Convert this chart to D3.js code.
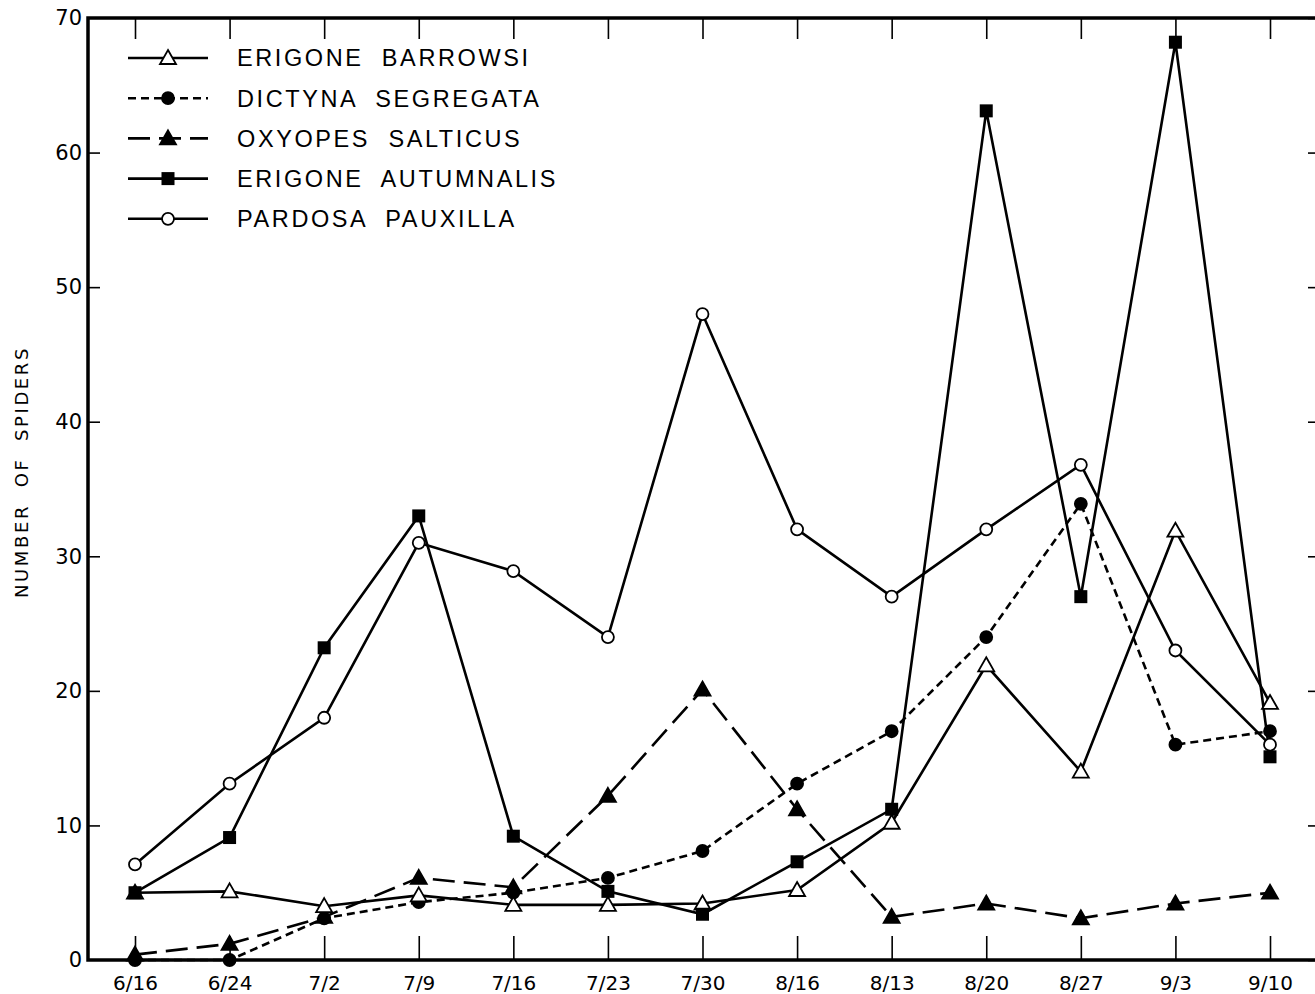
<!DOCTYPE html>
<html><head><meta charset="utf-8">
<script src="https://cdn.jsdelivr.net/npm/d3@7"></script>
<style>body{margin:0;background:#fff}svg{display:block}</style>
</head><body>
<script>
const dates = ["6/16","6/24","7/2","7/9","7/16","7/23","7/30","8/16","8/13","8/20","8/27","9/3","9/10"];
const yTicks = [0,10,20,30,40,50,60,70];
const erigoneBarrowsi   = [5,5.1,4,4.8,4.1,4.1,4.2,5.2,10.2,21.9,14,31.9,19.1];
const dictynaSegregata  = [0,0,3.1,4.3,5,6.1,8.1,13.1,17,24,33.9,16,17];
const oxyopesSalticus   = [0.4,1.2,3.2,6.1,5.4,12.2,20.1,11.2,3.2,4.2,3.1,4.2,5];
const erigoneAutumnalis = [5,9.1,23.2,33,9.2,5.1,3.4,7.3,11.2,63.1,27,68.2,15.1];
const pardosaPauxilla   = [7.1,13.1,18,31,28.9,24,48,32,27,32,36.8,23,16];
const seriesNames = ["ERIGONE  BARROWSI","DICTYNA  SEGREGATA","OXYOPES  SALTICUS","ERIGONE  AUTUMNALIS","PARDOSA  PAUXILLA"];

const series = [
  {name:seriesNames[0], values:erigoneBarrowsi, dash:null, marker:"triOpen"},
  {name:seriesNames[1], values:dictynaSegregata, dash:"8,5", marker:"circFill"},
  {name:seriesNames[2], values:oxyopesSalticus, dash:"22,9", marker:"triFill"},
  {name:seriesNames[3], values:erigoneAutumnalis, dash:null, marker:"sqFill"},
  {name:seriesNames[4], values:pardosaPauxilla, dash:null, marker:"circOpen"}
];

const W=1315,H=994;
const L=88,R=1318,T=18,B=960;
const svg=d3.select("body").append("svg").attr("width",W).attr("height",H);
const x=d3.scalePoint().domain(dates).range([135,1270]);
const y=d3.scaleLinear().domain([0,70]).range([B,T]);
const font="'DejaVu Sans', sans-serif";

// frame
svg.append("rect").attr("x",L).attr("y",T).attr("width",R-L).attr("height",B-T)
  .attr("fill","none").attr("stroke","#000").attr("stroke-width",3.5);

// bottom axis: inner ticks
const xb=svg.append("g").attr("transform",`translate(0,${B})`)
  .call(d3.axisBottom(x).tickSizeInner(-24).tickSizeOuter(0).tickPadding(30));
xb.select(".domain").remove();
xb.selectAll("line").attr("stroke-width",1.6);
xb.selectAll("text").attr("font-family",font).attr("font-size",20).attr("fill","#000").attr("dy","0em");
// top ticks
const xt=svg.append("g").attr("transform",`translate(0,${T})`)
  .call(d3.axisTop(x).tickSizeInner(-21).tickSizeOuter(0).tickFormat(""));
xt.select(".domain").remove();
xt.selectAll("line").attr("stroke-width",1.6);
// left axis
const yl=svg.append("g").attr("transform",`translate(${L},0)`)
  .call(d3.axisLeft(y).tickValues(yTicks).tickSizeInner(-12).tickSizeOuter(0).tickPadding(10).tickFormat(d3.format("d")));
yl.select(".domain").remove();
yl.selectAll("line").attr("stroke-width",1.6).attr("opacity",d=>(d===0||d===70)?0:1);
yl.selectAll("text").attr("font-family",font).attr("font-size",21).attr("fill","#000").attr("x",-6);
// right ticks
const yr=svg.append("g").attr("transform",`translate(${R},0)`)
  .call(d3.axisRight(y).tickValues(yTicks).tickSizeInner(-10).tickSizeOuter(0).tickFormat(""));
yr.select(".domain").remove();
yr.selectAll("line").attr("stroke-width",1.6);

// y label
svg.append("text").attr("transform","translate(28,472) rotate(-90)")
  .attr("text-anchor","middle").attr("font-family",font).attr("font-size",18)
  .attr("letter-spacing",2.6).style("white-space","pre").text("NUMBER  OF  SPIDERS");

function marker(g,type,cx,cy){
  if(type==="triOpen"||type==="triFill"){
    const s=8;
    g.append("path").attr("d",`M${cx},${cy-s} L${cx+s},${cy+s*0.75} L${cx-s},${cy+s*0.75}Z`)
     .attr("fill",type==="triFill"?"#000":"#fff").attr("stroke","#000").attr("stroke-width",1.8);
  } else if(type==="circFill"||type==="circOpen"){
    g.append("circle").attr("cx",cx).attr("cy",cy).attr("r",6)
     .attr("fill",type==="circFill"?"#000":"#fff").attr("stroke","#000").attr("stroke-width",1.8);
  } else {
    g.append("rect").attr("x",cx-6.5).attr("y",cy-6.5).attr("width",13).attr("height",13).attr("fill","#000");
  }
}

const line=d3.line().x((d,i)=>x(dates[i])).y(d=>y(d));
const drawOrder=[2,1,0,3,4];
drawOrder.forEach(k=>{
  const s=series[k];
  svg.append("path").datum(s.values).attr("d",line).attr("fill","none")
    .attr("stroke","#000").attr("stroke-width",2.6).attr("stroke-dasharray",s.dash);
});
drawOrder.forEach(k=>{
  const s=series[k];
  const g=svg.append("g");
  s.values.forEach((v,i)=>marker(g,s.marker,x(dates[i]),y(v)));
});

// legend
const lg=svg.append("g");
series.forEach((s,i)=>{
  const yy=58+i*40.2;
  lg.append("line").attr("x1",128).attr("x2",208).attr("y1",yy).attr("y2",yy)
    .attr("stroke","#000").attr("stroke-width",2.6).attr("stroke-dasharray",s.dash);
  marker(lg,s.marker,168,yy);
  lg.append("text").attr("x",237).attr("y",yy).attr("dy","0.36em")
    .attr("font-family","'Liberation Sans', sans-serif").attr("font-size",23.5)
    .attr("letter-spacing",2.6).style("white-space","pre").text(s.name);
});
</script>
</body></html>
